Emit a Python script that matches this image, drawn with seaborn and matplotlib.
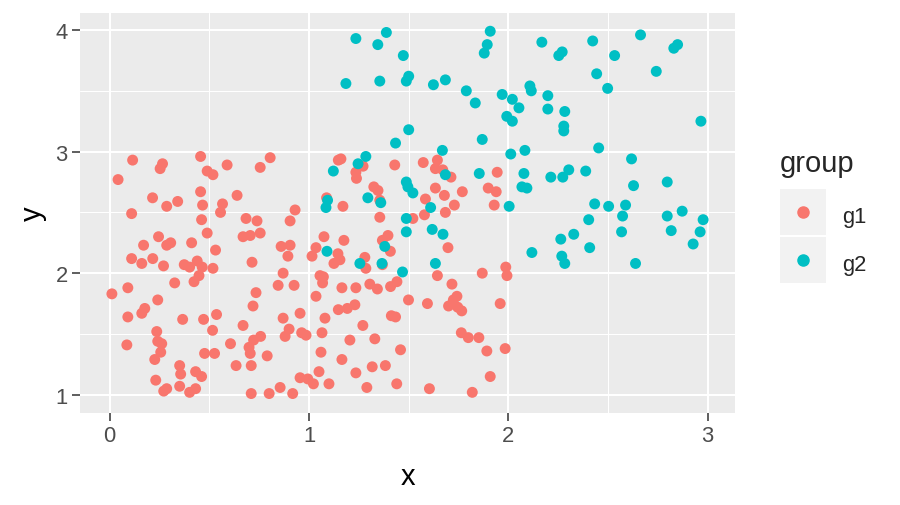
import pandas as pd
import seaborn as sns
import matplotlib.pyplot as plt
from matplotlib.patches import Rectangle
from matplotlib.lines import Line2D

# group g1
g1_x = [0.115, 0.265, 0.253, 0.456, 0.489, 0.518, 0.589, 0.755, 0.805, 0.042, 0.215, 0.286,
        0.341, 0.456, 0.466, 0.566, 0.639, 0.93, 0.11, 0.556, 0.461, 0.684, 0.739, 0.905,
        0.489, 0.669, 0.705, 0.755, 0.245, 0.17, 0.286, 0.306, 0.411, 0.531, 0.86, 0.905,
        0.894, 0.11, 0.161, 0.216, 0.27, 0.374, 0.401, 0.439, 0.464, 0.518, 0.448, 0.423,
        0.326, 0.714, 0.87, 0.845, 0.925, 0.091, 0.011, 0.734, 0.719, 0.241, 0.176, 0.161,
        0.091, 0.366, 0.471, 0.536, 0.516, 0.669, 0.87, 0.955, 0.90, 0.88, 0.963, 0.236,
        0.241, 0.261, 0.256, 0.226, 0.086, 0.606, 0.476, 0.526, 0.757, 0.722, 0.699, 0.705,
        0.79, 0.634, 0.71, 0.351, 0.356, 0.431, 0.461, 0.231, 0.351, 0.286, 0.271, 0.401,
        0.431, 0.71, 0.80, 0.855, 0.918, 0.955,
        1.147, 1.16, 1.235, 1.238, 1.271, 1.43, 1.573, 1.644, 1.634, 1.671, 1.712, 1.944,
        1.325, 1.346, 1.634, 1.679, 1.769, 1.899, 1.939, 1.584, 1.088, 1.17, 1.355, 1.729,
        1.929, 1.355, 1.521, 1.579, 1.684, 1.075, 1.175, 1.035, 1.015, 1.145, 1.155, 1.125,
        1.368, 1.396, 1.408, 1.28, 1.285, 1.368, 1.697, 1.055, 1.072, 1.068, 1.165, 1.235,
        1.305, 1.343, 1.409, 1.441, 1.644, 1.717, 1.869, 1.987, 1.993, 1.035, 1.499, 1.594,
        1.742, 1.724, 1.70, 1.746, 1.766, 1.959, 1.147, 1.192, 1.23, 1.08, 1.413, 1.434,
        1.27, 0.985, 1.065, 1.205, 1.33, 1.764, 1.799, 1.852, 1.06, 1.459, 1.892, 1.984,
        1.165, 1.317, 1.383, 1.05, 1.235, 0.994, 1.022, 1.10, 1.29, 1.44, 1.909, 1.604, 1.819]
g1_y = [2.93, 2.90, 2.86, 2.96, 2.84, 2.81, 2.89, 2.87, 2.95, 2.77, 2.62, 2.55,
        2.59, 2.67, 2.56, 2.57, 2.64, 2.52, 2.49, 2.50, 2.44, 2.45, 2.43, 2.43,
        2.33, 2.30, 2.31, 2.33, 2.30, 2.23, 2.23, 2.25, 2.25, 2.19, 2.22, 2.23,
        2.14, 2.12, 2.08, 2.12, 2.06, 2.07, 2.05, 2.10, 2.05, 2.04, 1.98, 1.93,
        1.92, 2.09, 2.00, 1.90, 1.90, 1.88, 1.83, 1.84, 1.73, 1.78, 1.71, 1.67,
        1.64, 1.62, 1.62, 1.66, 1.53, 1.57, 1.63, 1.67, 1.54, 1.48, 1.51, 1.52,
        1.44, 1.42, 1.35, 1.29, 1.41, 1.42, 1.34, 1.34, 1.48, 1.45, 1.39, 1.34,
        1.32, 1.24, 1.24, 1.24, 1.17, 1.19, 1.15, 1.12, 1.07, 1.05, 1.03, 1.02,
        1.05, 1.01, 1.01, 1.06, 1.01, 1.14,
        2.93, 2.94, 2.83, 2.78, 2.88, 2.89, 2.91, 2.93, 2.86, 2.85, 2.79, 2.83,
        2.71, 2.68, 2.70, 2.64, 2.67, 2.70, 2.67, 2.61, 2.62, 2.55, 2.60, 2.56,
        2.56, 2.46, 2.45, 2.48, 2.50, 2.30, 2.27, 2.21, 2.14, 2.16, 2.11, 2.08,
        2.27, 2.31, 2.18, 2.13, 2.04, 2.07, 2.21, 1.98, 1.97, 1.92, 1.88, 1.88,
        1.91, 1.87, 1.89, 1.93, 1.98, 1.91, 2.00, 2.05, 1.98, 1.81, 1.78, 1.75,
        1.81, 1.78, 1.73, 1.72, 1.69, 1.75, 1.70, 1.71, 1.74, 1.63, 1.65, 1.64,
        1.57, 1.49, 1.51, 1.45, 1.46, 1.51, 1.47, 1.47, 1.35, 1.37, 1.36, 1.38,
        1.29, 1.23, 1.24, 1.19, 1.18, 1.13, 1.09, 1.09, 1.06, 1.09, 1.15, 1.05, 1.02]

# group g2
g2_x = [1.235, 1.388, 1.345, 1.473, 1.909, 1.894, 1.879, 1.185, 1.355, 1.50, 1.488, 1.624,
        1.684, 1.789, 1.834, 1.969, 2.02, 1.992, 2.02, 1.50, 1.434, 1.869, 1.669, 2.012,
        1.285, 1.246, 1.122, 1.684, 1.854, 1.488, 1.496, 1.521, 1.295, 1.36, 1.093, 1.085,
        1.61, 2.004, 1.488, 1.488, 1.618, 1.672, 1.09, 1.38, 1.255, 1.366, 1.469, 1.634,
        2.168, 2.423, 2.663, 2.253, 2.27, 2.533, 2.83, 2.849, 2.443, 2.742, 2.498, 2.108,
        2.115, 2.053, 2.198, 2.198, 2.283, 2.278, 2.278, 2.966, 2.453, 2.083, 2.618, 2.078,
        2.213, 2.273, 2.303, 2.388, 2.068, 2.093, 2.628, 2.797, 2.433, 2.503, 2.588, 2.872,
        2.403, 2.573, 2.797, 2.977, 2.568, 2.817, 2.962, 2.328, 2.263, 2.408, 2.927, 2.118,
        2.268, 2.283, 2.638]
g2_y = [3.93, 3.98, 3.88, 3.79, 3.99, 3.88, 3.81, 3.56, 3.58, 3.62, 3.58, 3.55,
        3.59, 3.50, 3.40, 3.47, 3.43, 3.29, 3.25, 3.18, 3.07, 3.10, 3.01, 2.98,
        2.96, 2.90, 2.84, 2.81, 2.82, 2.75, 2.71, 2.66, 2.62, 2.58, 2.60, 2.54,
        2.54, 2.55, 2.45, 2.34, 2.36, 2.32, 2.18, 2.22, 2.08, 2.08, 2.01, 2.08,
        3.90, 3.91, 3.96, 3.79, 3.82, 3.79, 3.85, 3.88, 3.64, 3.66, 3.52, 3.54,
        3.50, 3.36, 3.46, 3.35, 3.33, 3.21, 3.17, 3.25, 3.03, 3.01, 2.94, 2.82,
        2.79, 2.79, 2.85, 2.84, 2.71, 2.70, 2.72, 2.75, 2.57, 2.55, 2.56, 2.51,
        2.44, 2.47, 2.47, 2.44, 2.34, 2.35, 2.34, 2.32, 2.28, 2.21, 2.24, 2.17,
        2.14, 2.08, 2.08]

groups = ["g1", "g2"]
colors = {"g1": "#F8766D", "g2": "#00BFC4"}

df = pd.concat([
    pd.DataFrame({"x": g1_x, "y": g1_y, "group": "g1"}),
    pd.DataFrame({"x": g2_x, "y": g2_y, "group": "g2"}),
])

sns.set_style("darkgrid")
plt.rcParams["font.family"] = ["Liberation Sans", "DejaVu Sans"]

fig = plt.figure(figsize=(9, 5.06), dpi=100)
W, H = 900, 506
ax = fig.add_axes([80 / W, 1 - 414 / H, (735 - 80) / W, (414 - 14) / H])

sns.scatterplot(data=df, x="x", y="y", hue="group", palette=colors,
                s=62, linewidth=0, alpha=1, legend=False, ax=ax, zorder=3)

ax.set_facecolor("#EBEBEB")
ax.set_xlim(-0.149, 3.137)
ax.set_ylim(0.85, 4.14)
ax.set_xticks([0, 1, 2, 3])
ax.set_yticks([1, 2, 3, 4])
ax.set_xticks([0.5, 1.5, 2.5], minor=True)
ax.set_yticks([1.5, 2.5, 3.5], minor=True)
ax.grid(which="major", color="white", linewidth=1.5)
ax.grid(which="minor", color="white", linewidth=0.75)
ax.set_axisbelow(True)
for sp in ax.spines.values():
    sp.set_visible(False)
ax.tick_params(which="major", bottom=True, left=True, length=5.8, width=1.1,
               color="#333333", labelcolor="#4D4D4D", labelsize=15.8, pad=3)
ax.tick_params(which="minor", length=0)
ax.set_xlabel("x", fontsize=21, color="black", labelpad=11.5)
ax.set_ylabel("y", fontsize=21, color="black", labelpad=6.5)

# legend drawn by hand, ggplot style
fig.text(780 / W, 1 - 171.7 / H, "group", fontsize=21, va="baseline", ha="left")
for i, g in enumerate(groups):
    top = 190 + i * 48
    fig.add_artist(Rectangle((780 / W, 1 - (top + 46) / H), 46 / W, 46 / H,
                             transform=fig.transFigure, facecolor="#F2F2F2",
                             edgecolor="none"))
    fig.add_artist(Line2D([803 / W], [1 - (top + 23) / H], transform=fig.transFigure,
                          marker="o", markersize=8, color=colors[g], linestyle="none"))
    fig.text(842 / W, 1 - (top + 33.5) / H, g, fontsize=15.8, va="baseline", ha="left")

fig.savefig("out.png", dpi=100)
